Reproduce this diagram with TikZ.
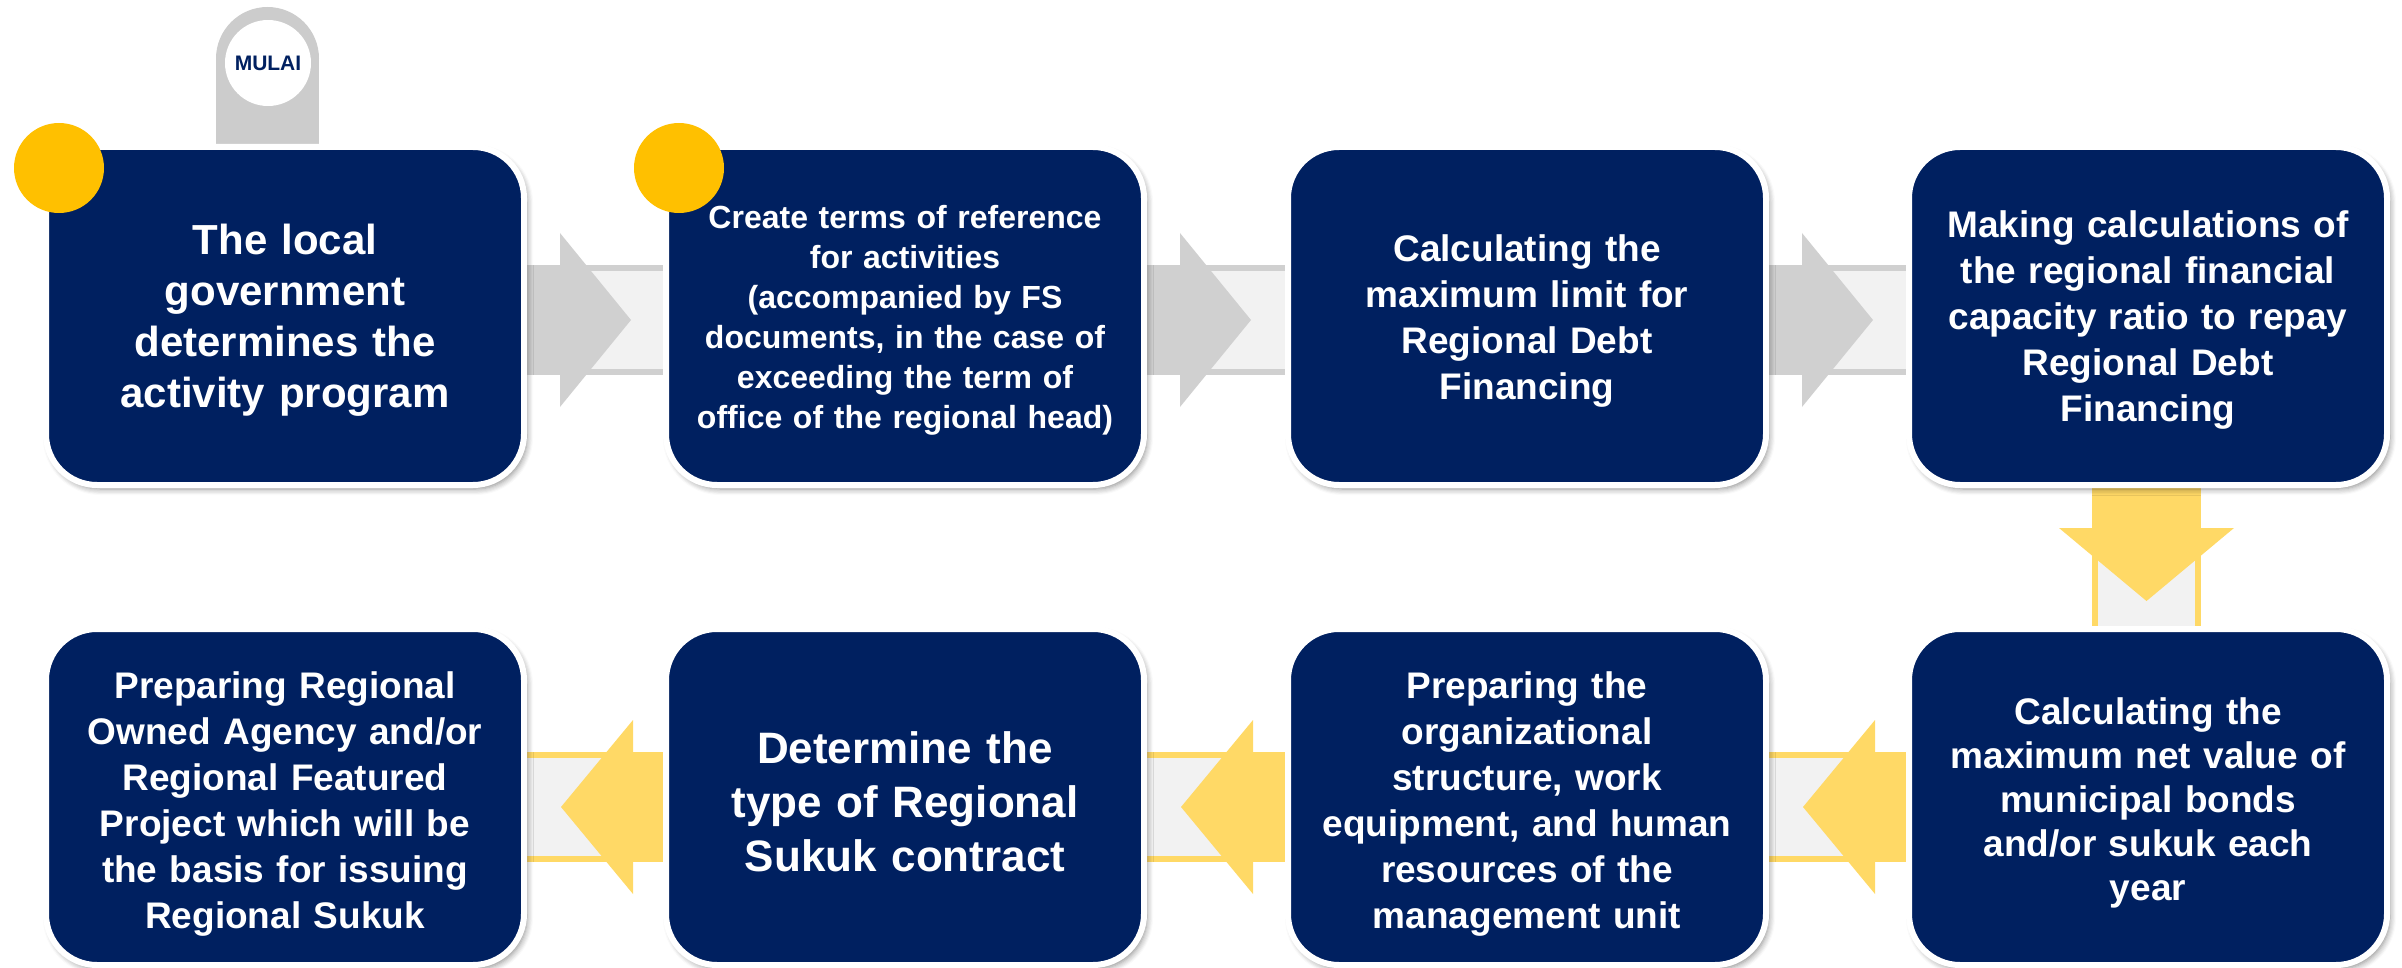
\documentclass[tikz,border=0pt]{standalone}
\usepackage{fontspec}
\setmainfont{Liberation Sans}
\usetikzlibrary{calc,shadows.blur}
\definecolor{navy}{HTML}{002060}
\definecolor{gold}{HTML}{FFC000}
\definecolor{lgold}{HTML}{FFD966}
\definecolor{agrey}{HTML}{D0D0D0}
\definecolor{tabgrey}{HTML}{CCCCCC}
\definecolor{bgl}{HTML}{F2F2F2}
\pgfdeclarelayer{back}
\pgfsetlayers{back,main}
\begin{document}
\begin{tikzpicture}[x=1pt,y=-1pt,
  box/.style={rectangle, rounded corners=51pt, minimum width=478pt,
    fill=navy, draw=white, line width=6pt, outer sep=0pt, inner sep=0pt,
    blur shadow={shadow xshift=3pt, shadow yshift=-4pt, shadow blur radius=6pt, shadow opacity=45, shadow blur steps=6}},
  toprow/.style={box, minimum height=338pt},
  botrow/.style={box, minimum height=336pt},
  txt/.style={text=white, align=center, text width=470pt, inner sep=0pt,
    font=\bfseries\fontsize{37}{46}\selectfont},
  greybg/.style={fill=bgl, draw=agrey, line width=6pt},
  goldbg/.style={fill=bgl, draw=lgold, line width=6pt},
  dot/.style={circle, fill=gold, minimum size=90pt, inner sep=0pt, draw=none},
  startc/.style={circle, fill=white, minimum size=86pt, inner sep=0pt, text=navy,
    font=\bfseries\fontsize{21}{21}\selectfont}
]
\useasboundingbox (0,0) rectangle (2402,968);

% boxes
\node[toprow] (b1) at (285,316) {};
\node[toprow] (b2) at (905,316) {};
\node[toprow] (b3) at (1527,316) {};
\node[toprow] (b4) at (2148,316) {};
\node[botrow] (b8) at (2148,797) {};
\node[botrow] (b7) at (1527,797) {};
\node[botrow] (b6) at (905,797) {};
\node[botrow] (b5) at (285,797) {};

% texts
\node[txt, font=\bfseries\fontsize{42}{51}\selectfont] (t1) at ($(b1)+(0,4)$)
  {The local\\government\\determines the\\activity program};
\node[txt, font=\bfseries\fontsize{32}{40}\selectfont] (t2) at ($(b2)+(0,4)$)
  {Create terms of reference\\for activities\\(accompanied by FS\\documents, in the case of\\exceeding the term of\\office of the regional head)};
\node[txt] (t3) at ($(b3)+(0,5)$)
  {Calculating the\\maximum limit for\\Regional Debt\\Financing};
\node[txt] (t4) at ($(b4)+(0,4)$)
  {Making calculations of\\the regional financial\\capacity ratio to repay\\Regional Debt\\Financing};
\node[txt, font=\bfseries\fontsize{37}{44}\selectfont] (t8) at ($(b8)+(0,6)$)
  {Calculating the\\maximum net value of\\municipal bonds\\and/or sukuk each\\year};
\node[txt] (t7) at ($(b7)+(0,7)$)
  {Preparing the\\organizational\\structure, work\\equipment, and human\\resources of the\\management unit};
\node[txt, font=\bfseries\fontsize{44}{54}\selectfont] (t6) at ($(b6)+(0,5)$)
  {Determine the\\type of Regional\\Sukuk contract};
\node[txt] (t5) at ($(b5)+(0,7)$)
  {Preparing Regional\\Owned Agency and/or\\Regional Featured\\Project which will be\\the basis for issuing\\Regional Sukuk};

% start tab and dots
\node[startc] (start) at (268,63) {MULAI};
\node[dot] (d1) at (59,168) {};
\node[dot] (d2) at (679,168) {};

\begin{pgfonlayer}{back}
  % start tab
  \fill[tabgrey] (216,58.5) rectangle (319,155);
  \fill[tabgrey] (267.5,58.5) circle[radius=51.5pt];
  % top row arrows (to the right)
  \foreach \a/\b in {b1/b2,b2/b3,b3/b4}{
    \draw[greybg] ($(\a.east)+(-10,-48)$) rectangle ($(\b.west)+(10,56)$);
    \fill[agrey] ($(\a.east)+(-10,-48)$) -- ($(\a.east)+(36,-48)$) -- ($(\a.east)+(36,-83)$)
      -- ($(\a.east)+(107,4)$) -- ($(\a.east)+(36,91)$) -- ($(\a.east)+(36,56)$)
      -- ($(\a.east)+(-10,56)$) -- cycle;
  }
  % down arrow
  \draw[goldbg] ($(b4.south)+(-53,-10)$) rectangle ($(b8.north)+(50,10)$);
  \fill[lgold] ($(b4.south)+(-53.5,-10)$) -- ($(b4.south)+(-53.5,43)$) -- ($(b4.south)+(-89,43)$)
    -- ($(b4.south)+(-1.5,116)$) -- ($(b4.south)+(86,43)$) -- ($(b4.south)+(50.5,43)$)
    -- ($(b4.south)+(50.5,-10)$) -- cycle;
  % bottom row arrows (to the left)
  \foreach \r/\l in {b8/b7,b7/b6,b6/b5}{
    \draw[goldbg] ($(\l.east)+(-10,-42)$) rectangle ($(\r.west)+(10,62)$);
    \fill[lgold] ($(\r.west)+(10,-42)$) -- ($(\l.east)+(109,-42)$) -- ($(\l.east)+(109,-77)$)
      -- ($(\l.east)+(37,10)$) -- ($(\l.east)+(109,97)$) -- ($(\l.east)+(109,62)$)
      -- ($(\r.west)+(10,62)$) -- cycle;
  }
\end{pgfonlayer}
\end{tikzpicture}
\end{document}
